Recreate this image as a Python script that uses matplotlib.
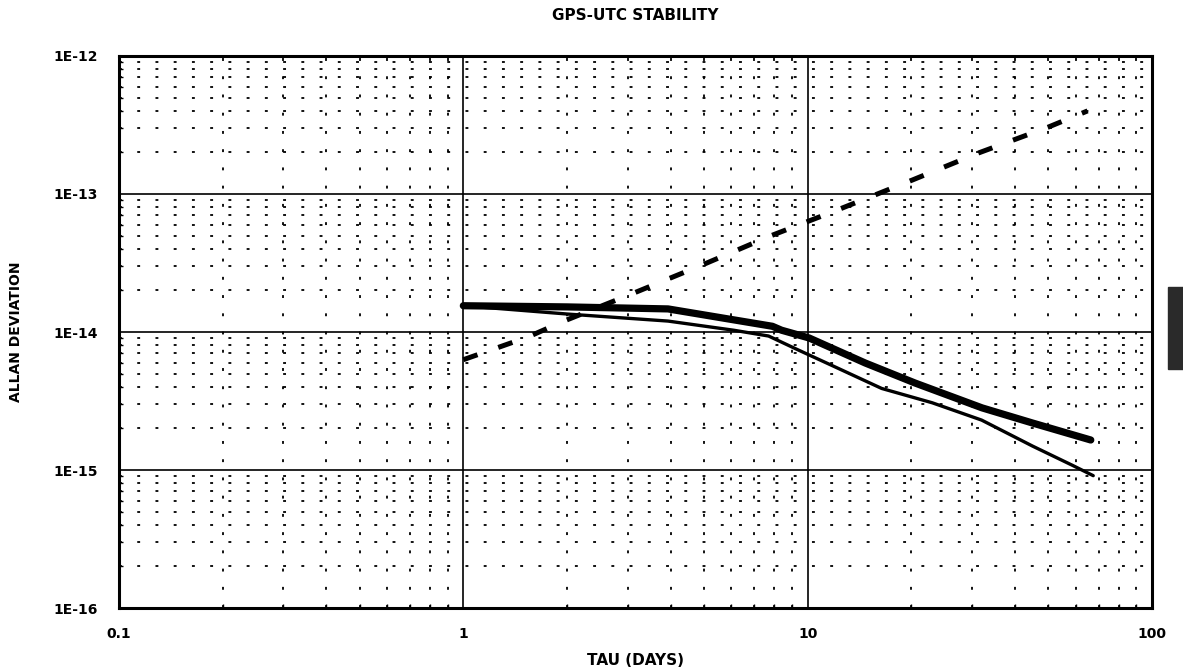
import matplotlib.pyplot as plt
from matplotlib.ticker import LogLocator, NullFormatter, FixedLocator
from matplotlib.patches import Rectangle

# dashed curve (rising)
tau_dash = [1.0, 1.54, 1.96, 3.07, 4.94, 7.8, 12.2, 20.1, 31.3, 50.1, 65.0]
adev_dash = [6.3e-15, 9.2e-15, 1.2e-14, 1.88e-14, 3.06e-14, 4.97e-14,
             7.66e-14, 1.26e-13, 1.98e-13, 3.06e-13, 4.0e-13]

# thick curve
tau_thick = [1.0, 2.0, 3.93, 7.9, 8.4, 10.1, 14.7, 20.5, 32.1, 45.0, 66.4]
adev_thick = [1.55e-14, 1.52e-14, 1.47e-14, 1.1e-14, 1.03e-14, 9.05e-15,
              5.96e-15, 4.27e-15, 2.82e-15, 2.19e-15, 1.65e-15]

# thin curve
tau_thin = [1.0, 2.0, 3.93, 6.1, 7.7, 9.4, 11.8, 16.4, 23.0, 32.0, 45.0, 58.8, 67.5]
adev_thin = [1.55e-14, 1.35e-14, 1.2e-14, 1.03e-14, 9.35e-15, 7.4e-15,
             5.7e-15, 3.9e-15, 3.07e-15, 2.3e-15, 1.49e-15, 1.08e-15, 9.1e-16]

xticks = [0.1, 1, 10, 100]
xlabels = ['0.1', '1', '10', '100']
yticks = [1e-16, 1e-15, 1e-14, 1e-13, 1e-12]
ylabels = ['1E-16', '1E-15', '1E-14', '1E-13', '1E-12']

plt.rcParams['font.family'] = ['DejaVu Sans']

fig = plt.figure(figsize=(11.83, 6.72), dpi=100)
ax = fig.add_axes([0.1006, 0.0952, 0.8732, 0.8215])
ax.set_xscale('log')
ax.set_yscale('log')
ax.set_xlim(0.1, 100)
ax.set_ylim(1e-16, 1e-12)

# grids: solid majors, dotted minors
ax.xaxis.set_major_locator(FixedLocator(xticks))
ax.yaxis.set_major_locator(FixedLocator(yticks))
ax.xaxis.set_minor_locator(LogLocator(base=10, subs=range(2, 10)))
ax.yaxis.set_minor_locator(LogLocator(base=10, subs=range(2, 10)))
ax.xaxis.set_minor_formatter(NullFormatter())
ax.yaxis.set_minor_formatter(NullFormatter())
ax.grid(which='major', color='black', linewidth=1.2, linestyle='-')
ax.grid(which='minor', color='black', linewidth=1.3, linestyle=(0, (1.6, 8.5)))
ax.set_axisbelow(True)

ax.plot(tau_dash, adev_dash, color='black', linewidth=3.6,
        linestyle=(0, (3, 4.4)), dash_capstyle='butt', zorder=3)
ax.plot(tau_thick, adev_thick, color='black', linewidth=5.2,
        solid_capstyle='round', zorder=3)
ax.plot(tau_thin, adev_thin, color='black', linewidth=2.4,
        solid_capstyle='round', zorder=3)

ax.set_xticks(xticks)
ax.set_xticklabels(xlabels)
ax.set_yticks(yticks)
ax.set_yticklabels(ylabels)
ax.tick_params(which='major', length=0, pad=14, labelsize=10)
ax.tick_params(axis='y', which='major', pad=15)
ax.tick_params(which='minor', direction='in', length=3, width=1)
for lab in ax.get_xticklabels() + ax.get_yticklabels():
    lab.set_fontweight('bold')

for sp in ax.spines.values():
    sp.set_linewidth(2.2)

ax.set_title('GPS-UTC STABILITY', fontsize=11, fontweight='bold', pad=26)
ax.set_xlabel('TAU (DAYS)', fontsize=11, fontweight='bold', labelpad=8)
fig.text(16 / 1183, 1 - 332 / 672, 'ALLAN DEVIATION', rotation=90,
         ha='center', va='center', fontsize=10, fontweight='bold')

# dark tab at right edge of the scanned page
fig.patches.append(Rectangle((1168 / 1183, 1 - 369 / 672), 15 / 1183, 82 / 672,
                             transform=fig.transFigure, color='#2a2a2a'))

fig.savefig('out.png', dpi=100)
